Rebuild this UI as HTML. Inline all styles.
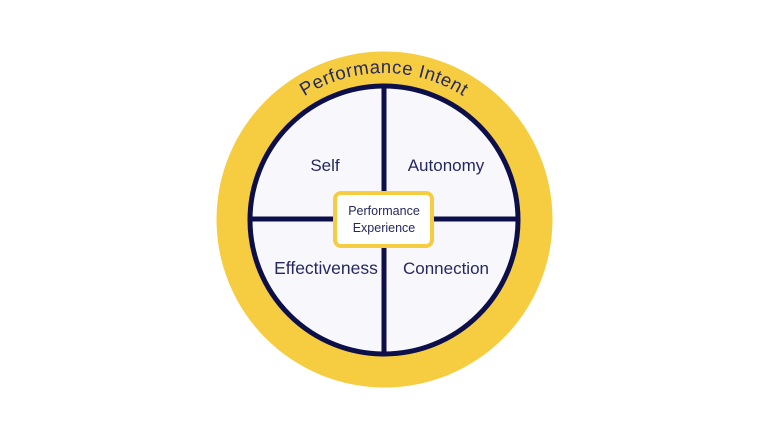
<!DOCTYPE html>
<html><head><meta charset="utf-8"><style>
html,body{margin:0;padding:0;background:#fff;}
svg{display:block;}
text{font-family:"Liberation Sans",sans-serif;fill:#25285e;}
</style></head><body>
<svg width="768" height="432" viewBox="0 0 768 432">
<circle cx="384.5" cy="219.5" r="168" fill="#f6cd40"/>
<circle cx="384" cy="220" r="134" fill="#f8f8fc" stroke="#0c0f4a" stroke-width="5"/>
<line x1="384" y1="86" x2="384" y2="354" stroke="#0c0f4a" stroke-width="5"/>
<line x1="250" y1="219" x2="518" y2="219" stroke="#0c0f4a" stroke-width="5"/>
<rect x="335" y="193" width="97" height="53" rx="6" fill="#fff" stroke="#f6cd40" stroke-width="4"/>
<path id="arc" d="M 237 220 A 147 147 0 0 1 531 220" fill="none"/>
<text font-size="18.5" letter-spacing="0.6"><textPath href="#arc" startOffset="50%" text-anchor="middle">Performance Intent</textPath></text>
<text x="325" y="171" font-size="17" text-anchor="middle">Self</text>
<text x="446" y="171" font-size="17" text-anchor="middle">Autonomy</text>
<text x="326" y="274" font-size="17.5" text-anchor="middle">Effectiveness</text>
<text x="446" y="274" font-size="17" text-anchor="middle">Connection</text>
<text x="384" y="215" font-size="12.5" text-anchor="middle">Performance</text>
<text x="384" y="232" font-size="12.5" text-anchor="middle">Experience</text>
</svg>
</body></html>
